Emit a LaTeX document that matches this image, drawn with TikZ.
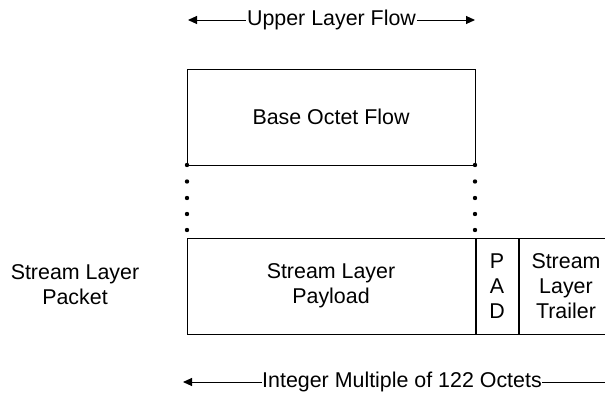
\documentclass[tikz,border=0pt]{standalone}
\usepackage{fontspec}
\setmainfont{Liberation Sans}
\usetikzlibrary{arrows.meta}
\begin{document}
\begin{tikzpicture}[x=0.5pt,y=-0.5pt,line width=0.5pt,
  txt/.style={font=\fontsize{10.7}{12.5}\selectfont,align=center,inner sep=0pt},
  field/.style={draw,txt,minimum height=48pt},
  span/.style={{Triangle[length=4.5pt,width=4pt]}-{Triangle[length=4.5pt,width=4pt]}},
  gaplabel/.style={txt,fill=white,inner xsep=0.3pt,inner ysep=2pt},
  dot/.style={circle,fill,inner sep=0pt,minimum size=2.2pt}]
\clip (0,0) rectangle (605,396);
\useasboundingbox (0,0) rectangle (605,396);

% upper layer flow
\coordinate (ul) at (188,20);
\coordinate (ur) at (475,20);
\draw[span] (ul) -- (ur) node[gaplabel,midway] (ulf) {Upper Layer Flow};

% base octet flow
\node[field,minimum width=144pt] (base) at (331,117) {Base Octet Flow};

% stream layer packet
\node[field,minimum width=144pt] (payload) at (331,286) {Stream Layer\\Payload};
\node[field,minimum width=21pt,anchor=west] (pad) at (payload.east) {P\\A\\D};
\node[field,minimum width=47pt,anchor=west] (trailer) at (pad.east) {Stream\\Layer\\Trailer};
\node[txt] (packet) at (75,285) {Stream Layer\\Packet};

% dotted drop lines from the base flow to the payload
\foreach \y in {165,181.5,198,214,230} {
  \node[dot] at (187,\y) {};
  \node[dot] at (475,\y) {};
}

% integer multiple span
\coordinate (bl) at (183,382);
\coordinate (br) at (621,382);
\draw[span] (bl) -- (br) node[gaplabel,pos=0.5] (imo) {Integer Multiple of 122 Octets};
\end{tikzpicture}
\end{document}
